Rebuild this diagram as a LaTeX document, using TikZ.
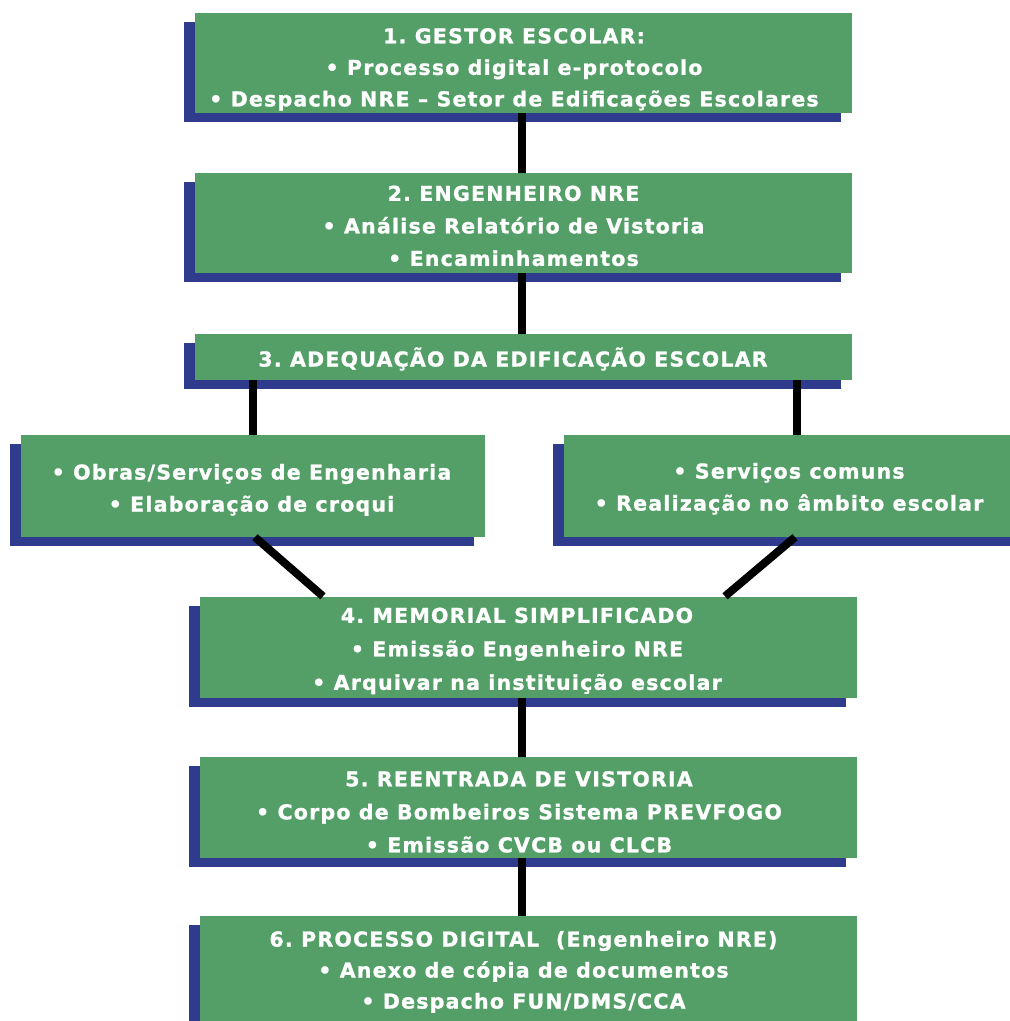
\documentclass[tikz,border=0pt]{standalone}
\usepackage{fontspec}
\setmainfont{DejaVu Sans}[LetterSpace=6, BoldFeatures={FakeBold=1.2}]
\frenchspacing
\usetikzlibrary{shadows}
\definecolor{boxgreen}{RGB}{84,159,104}
\definecolor{shadowblue}{RGB}{47,59,140}
\begin{document}
\begin{tikzpicture}[x=1pt,y=-1pt,
  stepbox/.style={fill=boxgreen, inner sep=0pt,
    drop shadow={shadow xshift=-11pt, shadow yshift=-9pt, fill=shadowblue, opacity=1}},
  txt/.style={text=white, inner sep=0pt, align=center,
    font=\bfseries\fontsize{20.5}{#1}\selectfont,
    execute at begin node={\rule{0pt}{20.5pt}},
    execute at end node={\rule[-5.5pt]{0pt}{0pt}}},
  txt/.default=32.5,
  link/.style={line width=8pt, black}]
\useasboundingbox (0,0) rectangle (1010,1021);
\begin{scope}
\clip (0,0) rectangle (1010,1021);
% boxes
\node[stepbox, minimum width=657pt, minimum height=100pt] (b1) at (523.5,63) {};
\node[stepbox, minimum width=657pt, minimum height=100pt] (b2) at (523.5,223) {};
\node[stepbox, minimum width=657pt, minimum height=46pt] (b3) at (523.5,357) {};
\node[stepbox, minimum width=464pt, minimum height=102pt] (bl) at (253,486) {};
\node[stepbox, minimum width=466pt, minimum height=102pt] (br) at (797,486) {};
\node[stepbox, minimum width=657pt, minimum height=101pt] (b4) at (528.5,647) {};
\node[stepbox, minimum width=657pt, minimum height=101pt] (b5) at (528.5,807.5) {};
\node[stepbox, minimum width=657pt, minimum height=106pt] (b6) at (528.5,969) {};
% texts
\node[txt=31.5] (t1) at (514,70)
  {1. GESTOR ESCOLAR:\\ • Processo digital e-protocolo\\ • Despacho NRE – Setor de Edificações Escolares};
\node[txt] (t2) at (513.5,228.5)
  {2. ENGENHEIRO NRE\\ • Análise Relatório de Vistoria\\ • Encaminhamentos};
\node[txt] (t3) at (513,359)
  {3. ADEQUAÇÃO DA EDIFICAÇÃO ESCOLAR};
\node[txt=32] (tl) at (251.5,490.5)
  {• Obras/Serviços de Engenharia\\ • Elaboração de croqui};
\node[txt=32] (tr) at (789,489.5)
  {• Serviços comuns\\ • Realização no âmbito escolar};
\node[txt=33.5] (t4) at (517,651.5)
  {4. MEMORIAL SIMPLIFICADO\\ • Emissão Engenheiro NRE\\ • Arquivar na instituição escolar};
\node[txt=33] (t5) at (519,814.5)
  {5. REENTRADA DE VISTORIA\\ • Corpo de Bombeiros Sistema PREVFOGO\\ • Emissão CVCB ou CLCB};
\node[txt=31] (t6) at (523.5,972.5)
  {6. PROCESSO DIGITAL \ (Engenheiro NRE)\\ • Anexo de cópia de documentos\\ • Despacho FUN/DMS/CCA};
% connectors
\draw[link] ([xshift=-1.5pt]b1.south) -- ([xshift=-1.5pt]b2.north);
\draw[link] ([xshift=-1.5pt]b2.south) -- ([xshift=-1.5pt]b3.north);
\draw[link] (b3.south -| bl.north) -- (bl.north);
\draw[link] (b3.south -| br.north) -- (br.north);
\draw[link] ([xshift=2pt]bl.south) -- ([xshift=-205.5pt]b4.north);
\draw[link] ([xshift=-2pt]br.south) -- ([xshift=196.5pt]b4.north);
\draw[link] ([xshift=-6.5pt]b4.south) -- ([xshift=-6.5pt]b5.north);
\draw[link] ([xshift=-6.5pt]b5.south) -- ([xshift=-6.5pt]b6.north);
\end{scope}
\end{tikzpicture}
\end{document}
